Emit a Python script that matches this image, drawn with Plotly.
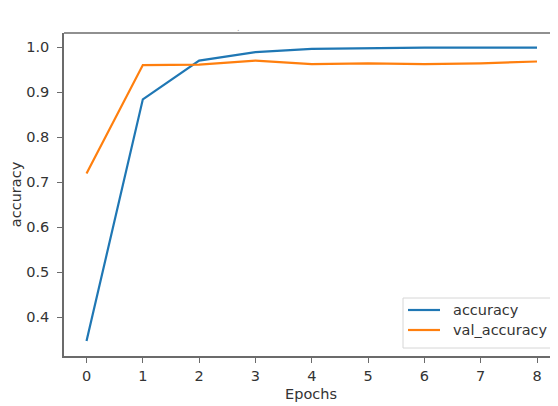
import plotly.graph_objects as go

epochs = [0, 1, 2, 3, 4, 5, 6, 7, 8]
accuracy = [0.347, 0.884, 0.970, 0.989, 0.996, 0.998, 0.999, 0.999, 0.999]
val_accuracy = [0.719, 0.960, 0.961, 0.970, 0.962, 0.964, 0.962, 0.964, 0.968]
x_ticks = [0, 1, 2, 3, 4, 5, 6, 7, 8]
y_ticks = [0.4, 0.5, 0.6, 0.7, 0.8, 0.9, 1.0]
series_names = ["accuracy", "val_accuracy"]
series_colors = ["#1f77b4", "#ff7f0e"]

font = "DejaVu Sans"
txt = "#333333"
spine = "#6b6b6b"
FS = 14.5

# page body has an 8px margin, so the figure is 550x398 placed at (8,8)
OFF = 8
FW, FH = 558 - OFF, 406 - OFF
L, T, R, B = 64 - OFF, 33 - OFF, 558 - OFF, 356 - OFF
W, H = R - L, B - T


def px(x):
    return (x - OFF - L) / W


def py(y):
    return (B - (y - OFF)) / H


fig = go.Figure()
for name, vals, col in zip(series_names, [accuracy, val_accuracy], series_colors):
    fig.add_trace(go.Scatter(x=epochs, y=vals, mode="lines", name=name,
                             line=dict(color=col, width=2.2)))

fig.update_layout(
    width=FW, height=FH,
    margin=dict(l=L, r=FW - R, t=T, b=FH - B, autoexpand=False),
    paper_bgcolor="white", plot_bgcolor="white",
    font=dict(family=font, size=FS, color=txt),
    showlegend=False,
    xaxis=dict(range=[-0.4, 8.373], tickvals=x_ticks, showgrid=False, zeroline=False,
               showline=True, linecolor=spine, linewidth=1.5,
               ticks="outside", ticklen=5, tickwidth=1.2, tickcolor=spine,
               ticklabelstandoff=1,
               title=dict(text="Epochs", standoff=6, font=dict(size=FS, color=txt))),
    yaxis=dict(range=[0.3137, 1.0313], tickvals=y_ticks, tickformat=".1f",
               showgrid=False, zeroline=False,
               showline=True, linecolor=spine, linewidth=1.5,
               ticks="outside", ticklen=5, tickwidth=1.2, tickcolor=spine,
               ticklabelstandoff=5,
               title=dict(text="accuracy", standoff=8, font=dict(size=FS, color=txt))),
)
# top spine
fig.add_shape(type="line", xref="paper", yref="paper", x0=0, x1=1, y0=1, y1=1,
              line=dict(color=spine, width=1.5))
fig.add_annotation(text=".", xref="paper", yref="paper", x=px(238), y=1.0,
                   yanchor="bottom", showarrow=False, yshift=-2,
                   font=dict(size=8, color="#999999"))

# legend box drawn manually
fig.add_shape(type="rect", xref="paper", yref="paper",
              x0=px(403), x1=px(553), y0=py(348), y1=py(298),
              line=dict(color="#d6d6d6", width=1), fillcolor="rgba(255,255,255,0.8)",
              layer="above")
for i, (name, col) in enumerate(zip(series_names, series_colors)):
    yy = 310 + i * 20
    fig.add_shape(type="line", xref="paper", yref="paper",
                  x0=px(408), x1=px(440), y0=py(yy), y1=py(yy),
                  line=dict(color=col, width=2.2), layer="above")
    fig.add_annotation(text=name, xref="paper", yref="paper", x=px(451), y=py(yy),
                       xanchor="left", yanchor="middle", showarrow=False,
                       font=dict(size=FS, color=txt))

fig.write_html("out.html")
